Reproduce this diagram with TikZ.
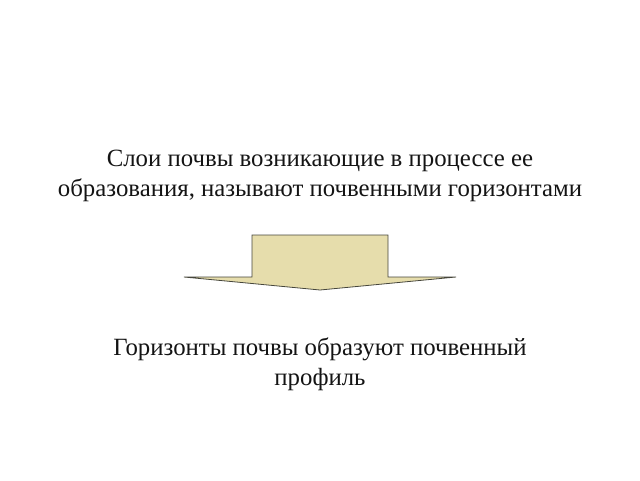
\documentclass[tikz,border=0pt]{standalone}
\usepackage{fontspec}
\setmainfont{Liberation Serif}
\definecolor{arrowfill}{RGB}{230,221,172}
\definecolor{arrowline}{RGB}{70,70,60}
\definecolor{txt}{RGB}{20,20,20}
\begin{document}
\begin{tikzpicture}[x=1pt,y=-1pt,
  label/.style={align=center,font=\fontsize{24.8}{30}\selectfont,text=txt,inner sep=0pt},
  bigarrow/.style={draw=arrowline,fill=arrowfill,line width=0.8pt,line join=miter}]
\useasboundingbox (0,0) rectangle (640,480);
\node[label] (top) at (320,176) {Слои почвы возникающие в процессе ее\\образования, называют почвенными горизонтами};
\draw[bigarrow] (252,235) -- (388,235) -- (388,277) -- (456,277) -- (320,290) -- (184,277) -- (252,277) -- cycle;
\coordinate (tip) at (320,290);
\node[label] (bottom) at (320,364) {Горизонты почвы образуют почвенный\\профиль};
\end{tikzpicture}
\end{document}
